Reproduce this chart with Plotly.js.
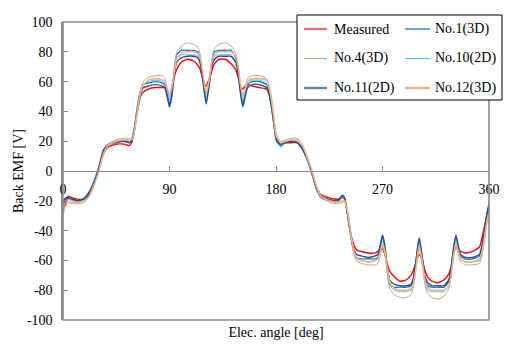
<!DOCTYPE html>
<html><head><meta charset="utf-8">
<script src="https://cdn.plot.ly/plotly-3.0.1.min.js"></script>
<style>html,body{margin:0;padding:0;background:#fff;}#chart{width:521px;height:355px;}</style>
</head><body><div id="chart"></div>
<script>
// Electrical angle [deg]
var angle = [0,2,4,8,13,18,22,26,30,34,38,45,52,56,58,60,62,64,66,68,72,78,84,86,88,90,92,94,96,100,105,110,114,116,118,121,124,126,128,132,137,142,146,148,150,152,154,156,160,166,172,174,176,178,
  180,182,184,188,193,198,202,206,210,214,218,225,232,236,238,240,242,244,246,248,252,258,264,266,268,270,272,274,276,280,285,290,294,296,298,301,304,306,308,312,317,322,326,328,330,332,334,336,340,346,352,354,356,358,360];

var measured = [-28,-22,-17,-18,-19,-19,-16,-9,0,11,16,18,18,17,19,26,36,45,51,53,55,56,56,56,54,52,56,63,68,73,75,74,71,68,62,57,63,68,72,75,75,72,68,63,57,55,57,58,57,56,55,52,45,35,
  23,20,19,19,19,19,16,9,0,-10,-16,-18,-19,-18,-19,-27,-37,-45,-50,-53,-54,-55,-55,-54,-53,-52,-56,-62,-67,-71,-74,-73,-70,-67,-62,-56,-61,-67,-71,-74,-75,-73,-69,-64,-56,-51,-53,-54,-55,-54,-51,-45,-38,-31,-27];

var no1_3D = [-21,-18,-18,-19,-20,-18,-14,-7,2,14,18,20,20,19,21,28,39,49,55,58,59,60,59,58,52,45,53,68,78,81,81,81,80,75,63,46,62,75,80,81,81,81,76,67,53,45,52,58,60,60,58,53,44,32,
  21,18,17,19,20,19,15,8,-1,-12,-18,-20,-20,-16,-18,-27,-38,-48,-55,-58,-59,-59,-59,-58,-52,-44,-52,-67,-76,-78,-78,-78,-77,-73,-62,-45,-61,-73,-77,-78,-78,-78,-74,-66,-52,-44,-52,-57,-59,-59,-57,-51,-41,-30,-21];

var no4_3D = [-26,-23,-21,-22,-22,-21,-17,-10,-1,11,18,21,22,22,22,26,36,48,56,60,63,64,64,62,56,50,56,68,79,84,86,85,83,78,66,51,64,76,82,85,86,84,79,71,57,50,56,62,64,64,62,58,49,37,
  25,22,20,21,22,22,18,10,1,-10,-17,-21,-22,-21,-21,-25,-35,-47,-56,-60,-62,-63,-63,-62,-57,-51,-56,-68,-79,-83,-85,-85,-83,-78,-67,-52,-65,-77,-82,-85,-86,-84,-79,-71,-58,-51,-56,-61,-63,-63,-62,-57,-48,-36,-30];

var no10_2D = [-23,-20,-19,-20,-21,-19,-15,-7,2,13,18,20,21,20,21,27,38,48,55,58,60,61,60,59,54,48,54,66,75,78,78,78,77,73,63,48,62,73,77,78,78,78,74,67,55,47,53,59,61,61,59,54,45,33,
  22,18,16,19,20,20,16,8,-1,-12,-18,-20,-21,-18,-19,-27,-38,-48,-55,-59,-60,-61,-60,-59,-54,-46,-53,-66,-76,-80,-81,-81,-80,-76,-65,-47,-63,-75,-80,-81,-81,-81,-77,-69,-55,-46,-53,-59,-61,-61,-59,-53,-43,-32,-24];

var no11_2D = [-22,-19,-18,-19,-20,-19,-15,-8,1,13,17,19,20,19,20,26,36,46,53,56,57,58,57,56,50,43,50,64,73,76,77,77,76,72,62,45,60,71,75,77,77,77,73,65,52,43,50,56,58,58,56,52,44,33,
  22,19,18,19,20,19,15,9,0,-11,-17,-19,-20,-17,-18,-26,-36,-46,-53,-56,-57,-58,-57,-56,-50,-43,-50,-64,-73,-76,-77,-77,-76,-72,-62,-45,-60,-71,-75,-77,-77,-77,-73,-65,-52,-43,-50,-56,-58,-58,-56,-50,-40,-30,-23];

var no12_3D = [-29,-24,-21,-21,-21,-20,-17,-10,-1,11,17,20,21,21,21,25,35,46,54,58,61,62,61,60,56,52,56,66,75,79,80,80,79,76,67,52,63,74,78,80,80,80,77,70,58,51,55,60,62,62,61,57,49,37,
  24,21,19,20,21,21,18,10,1,-10,-17,-20,-21,-20,-20,-25,-35,-46,-54,-58,-60,-61,-60,-59,-55,-49,-54,-65,-74,-79,-80,-80,-79,-76,-67,-50,-63,-74,-78,-80,-80,-80,-77,-70,-57,-49,-54,-59,-61,-61,-60,-55,-46,-35,-28];

var seriesNames = ["Measured","No.1(3D)","No.4(3D)","No.10(2D)","No.11(2D)","No.12(3D)"];
var seriesData = [measured, no1_3D, no4_3D, no10_2D, no11_2D, no12_3D];
var xTicks = [0,90,180,270,360];
var yTicks = [-100,-80,-60,-40,-20,0,20,40,60,80,100];

var colors = ["#ff0000","#0070c0","#b5ad8a","#52bdf2","#2f4a86","#f4b183"];
var widths = [1.4,1.2,1.0,1.0,1.4,1.6];
var legendColors = ["#ff0000","#0070c0","#b5ad8a","#52bdf2","#6f80aa","#f4b183"];
var legendWidths = [1.2,1.2,1.2,1.2,2.4,2.4];

var FONT = "Liberation Serif, Times New Roman, serif";

var traces = seriesData.map(function(d,i){
  return {x: angle, y: d, type:"scatter", mode:"lines", name: seriesNames[i],
    line:{color:colors[i], width:widths[i], shape:"spline", smoothing:0.5}, showlegend:false, hoverinfo:"skip"};
});

// plot area in pixels
var L=63, R=489, T=22, B=320, W=521, H=355;
function px(xp){ return (xp-L)/(R-L); }
function py(yp){ return (B-yp)/(B-T); }

var shapes = [
  {type:"rect", xref:"paper", yref:"paper", x0:0, x1:1, y0:0, y1:1, line:{color:"#8a8a8a", width:1.6}, layer:"above"},
  {type:"rect", xref:"paper", yref:"paper", x0:px(297), x1:px(502), y0:py(100), y1:py(15), line:{color:"#000", width:1}, fillcolor:"#fff", layer:"above"}
];
var annotations = [];
var rowsY = [29, 58.5, 88];
var colLine = [[304,327],[405,430]];
var colText = [332, 433];
seriesNames.forEach(function(n,i){
  var r = Math.floor(i/2), c = i%2;
  shapes.push({type:"line", xref:"paper", yref:"paper", x0:px(colLine[c][0]), x1:px(colLine[c][1]), y0:py(rowsY[r]), y1:py(rowsY[r]),
    line:{color:legendColors[i], width:legendWidths[i]}, layer:"above"});
  annotations.push({xref:"paper", yref:"paper", x:px(colText[c]), y:py(rowsY[r]), text:n, showarrow:false,
    xanchor:"left", yanchor:"middle", font:{family:FONT, size:14, color:"#000"}});
});

var layout = {
  width:W, height:H,
  margin:{l:L, r:W-R, t:T, b:H-B, pad:0},
  paper_bgcolor:"#fff", plot_bgcolor:"#fff",
  showlegend:false,
  font:{family:FONT, size:14, color:"#000"},
  xaxis:{range:[0,360], tickvals:xTicks, ticktext:xTicks.map(String), anchor:"free", position:0.5,
    showline:true, linecolor:"#8a8a8a", linewidth:1, ticks:"inside", ticklen:5, tickcolor:"#8a8a8a",
    showgrid:false, zeroline:false, tickfont:{family:FONT, size:14, color:"#000"}, ticklabelstandoff:5,
    title:{text:"Elec. angle [deg]", font:{family:FONT, size:14, color:"#000"}, standoff:131}, automargin:false},
  yaxis:{range:[-100,100], tickvals:yTicks, ticktext:yTicks.map(String),
    showline:true, linecolor:"#8a8a8a", linewidth:1.6, ticks:"inside", ticklen:5, tickcolor:"#8a8a8a",
    showgrid:false, zeroline:false, tickfont:{family:FONT, size:14, color:"#000"}, ticklabelstandoff:6,
    title:{text:"Back EMF [V]", font:{family:FONT, size:14, color:"#000"}, standoff:0}, automargin:false},
  shapes:shapes, annotations:annotations
};
Plotly.newPlot("chart", traces, layout, {staticPlot:true, displayModeBar:false});
</script></body></html>
